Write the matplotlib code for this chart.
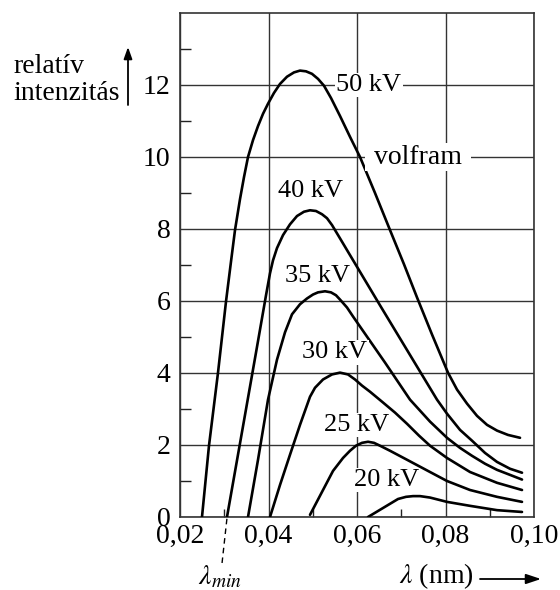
import matplotlib
matplotlib.use("Agg")
import matplotlib.pyplot as plt
from matplotlib.patches import FancyArrowPatch

plt.rcParams['font.family'] = ['Liberation Serif', 'STIXGeneral', 'DejaVu Serif']
plt.rcParams['mathtext.fontset'] = 'stix'

# ---- data ----
kv50_x = [0.02497, 0.02655, 0.02859, 0.03040, 0.03153, 0.03243, 0.03356, 0.03446, 0.03537,
          0.03650, 0.03763, 0.03876, 0.03989, 0.04124, 0.04260, 0.04418, 0.04576, 0.04712,
          0.04847, 0.04983, 0.05119, 0.05254, 0.05412, 0.05616, 0.05842, 0.06068, 0.06407,
          0.06746, 0.07062, 0.07356, 0.07695, 0.08056, 0.08260, 0.08486, 0.08712, 0.08938,
          0.09164, 0.09412, 0.09684]
kv50_y = [0.0, 1.98, 4.01, 5.99, 7.10, 7.97, 8.83, 9.44, 10.00,
          10.47, 10.86, 11.20, 11.48, 11.78, 12.03, 12.23, 12.35, 12.40,
          12.38, 12.31, 12.17, 11.98, 11.64, 11.14, 10.56, 10.00, 9.00,
          7.97, 7.02, 6.10, 5.07, 4.01, 3.54, 3.15, 2.81, 2.56,
          2.40, 2.28, 2.20]

kv40_x = [0.03062, 0.03378, 0.03718, 0.03944, 0.04034, 0.04102, 0.04192, 0.04328, 0.04486,
          0.04644, 0.04802, 0.04938, 0.05073, 0.05209, 0.05322, 0.05435, 0.05616, 0.06520,
          0.07808, 0.08034, 0.08328, 0.08599, 0.08893, 0.09164, 0.09458, 0.09729]
kv40_y = [0.0, 2.20, 4.57, 6.16, 6.77, 7.13, 7.47, 7.83, 8.13,
          8.36, 8.48, 8.52, 8.50, 8.41, 8.30, 8.11, 7.74, 5.88,
          3.26, 2.87, 2.42, 2.12, 1.78, 1.53, 1.34, 1.23]

kv35_x = [0.03537, 0.03763, 0.03989, 0.04192, 0.04373, 0.04531, 0.04712, 0.04870, 0.05006,
          0.05119, 0.05277, 0.05412, 0.05525, 0.05616, 0.05774, 0.05910, 0.06068, 0.06633,
          0.07198, 0.07650, 0.08034, 0.08328, 0.08599, 0.08893, 0.09164, 0.09458, 0.09729]
kv35_y = [0.0, 1.59, 3.26, 4.37, 5.13, 5.63, 5.91, 6.07, 6.18,
          6.24, 6.27, 6.24, 6.16, 6.04, 5.82, 5.57, 5.29, 4.29,
          3.26, 2.65, 2.20, 1.92, 1.70, 1.48, 1.31, 1.17, 1.04]

kv30_x = [0.04034, 0.04260, 0.04486, 0.04712, 0.04938, 0.05051, 0.05232, 0.05435, 0.05616,
          0.05797, 0.05955, 0.06113, 0.06294, 0.06588, 0.06859, 0.07130, 0.07401, 0.07650,
          0.08034, 0.08554, 0.09164, 0.09729]
kv30_y = [0.0, 0.89, 1.73, 2.56, 3.34, 3.59, 3.82, 3.96, 4.01,
          3.96, 3.82, 3.65, 3.48, 3.18, 2.90, 2.59, 2.26, 1.98,
          1.64, 1.25, 0.95, 0.75]

kv25_x = [0.04938, 0.05232, 0.05458, 0.05684, 0.05842, 0.05977, 0.06113, 0.06249, 0.06384,
          0.06520, 0.06746, 0.07130, 0.07650, 0.08034, 0.08554, 0.09164, 0.09729]
kv25_y = [0.06, 0.75, 1.28, 1.64, 1.84, 1.98, 2.06, 2.09, 2.06,
          1.98, 1.84, 1.59, 1.25, 1.00, 0.75, 0.56, 0.42]

kv20_x = [0.06249, 0.06588, 0.06927, 0.07107, 0.07266, 0.07424, 0.07650, 0.08034, 0.08554,
          0.09164, 0.09729]
kv20_y = [0.0, 0.25, 0.50, 0.56, 0.58, 0.58, 0.54, 0.42, 0.31,
          0.19, 0.14]

x_ticks = [0.02, 0.04, 0.06, 0.08, 0.10]
x_tick_labels = ['0,02', '0,04', '0,06', '0,08', '0,10']
y_ticks = [0, 2, 4, 6, 8, 10, 12]
y_tick_labels = ['0', '2', '4', '6', '8', '10', '12']
x_minor = [0.03, 0.05, 0.07, 0.09]
y_minor = [1, 3, 5, 7, 9, 11, 13]

series = [(kv50_x, kv50_y, '50 kV'), (kv40_x, kv40_y, '40 kV'), (kv35_x, kv35_y, '35 kV'),
          (kv30_x, kv30_y, '30 kV'), (kv25_x, kv25_y, '25 kV'), (kv20_x, kv20_y, '20 kV')]

# label anchor positions (data coords)
label_pos = {'50 kV': (0.0627, 12.0), '40 kV': (0.0495, 9.05), '35 kV': (0.0511, 6.69),
             '30 kV': (0.0550, 4.57), '25 kV': (0.0600, 2.56), '20 kV': (0.0666, 1.03)}

fig = plt.figure(figsize=(5.6, 5.9), dpi=100)
ax = fig.add_axes([180/560, 1-517/590, (534-180)/560, (517-13)/590])

ax.set_xlim(0.02, 0.10)
ax.set_ylim(0, 14)

ax.set_xticks(x_ticks)
ax.set_xticklabels(x_tick_labels)
ax.set_yticks(y_ticks)
ax.set_yticklabels(y_tick_labels)
ax.set_xticks(x_minor, minor=True)
ax.set_yticks(y_minor, minor=True)
ax.tick_params(which='major', length=0, labelsize=20)
ax.tick_params(axis='y', which='major', pad=7)
ax.tick_params(axis='x', which='major', pad=5)
ax.tick_params(which='minor', direction='in', length=6, width=1.0, color='#222222')
ax.tick_params(axis='y', which='minor', length=8)

ax.grid(True, which='major', color='#333333', linewidth=1.0, zorder=0)
ax.set_axisbelow(True)
for s in ax.spines.values():
    s.set_linewidth(1.2)
    s.set_color('#333333')

for xs, ys, lab in series:
    ax.plot(xs, ys, color='black', linewidth=1.9, solid_joinstyle='round',
            solid_capstyle='round', zorder=3)
    lx, ly = label_pos[lab]
    ax.text(lx, ly, lab, fontsize=19, ha='center', va='center', zorder=4,
            bbox=dict(facecolor='white', edgecolor='none', pad=1.0))

ax.text(0.0738, 10.0, ' volfram ', fontsize=20, ha='center', va='center', zorder=4,
        bbox=dict(facecolor='white', edgecolor='none', pad=1.5))

# lambda_min dashed pointer
ax.plot([0.0306, 0.0295], [-0.05, -1.28], color='black', linewidth=1.0,
        linestyle=(0, (4, 3)), clip_on=False)

# outside labels
fig.text(13/560, 1-73/590, 'relatív', fontsize=20, ha='left', va='baseline')
fig.text(13/560, 1-100/590, 'intenzitás', fontsize=20, ha='left', va='baseline')
fig.patches.append(FancyArrowPatch(
    (128/560, 1-105/590), (128/560, 1-47/590), transform=fig.transFigure,
    arrowstyle='-|>,head_length=7,head_width=2.5', color='black', linewidth=1.3,
    shrinkA=0, shrinkB=0))

fig.text(436/560, 1-576/590, r'$\lambda$ (nm)', fontsize=20, ha='center', va='center')
fig.patches.append(FancyArrowPatch(
    (480/560, 1-579/590), (541/560, 1-579/590), transform=fig.transFigure,
    arrowstyle='-|>,head_length=9,head_width=3', color='black', linewidth=1.3,
    shrinkA=0, shrinkB=0))
fig.text(220/560, 1-577/590, r'$\lambda_{min}$', fontsize=20, ha='center', va='center')

fig.savefig('out.png', dpi=100)
